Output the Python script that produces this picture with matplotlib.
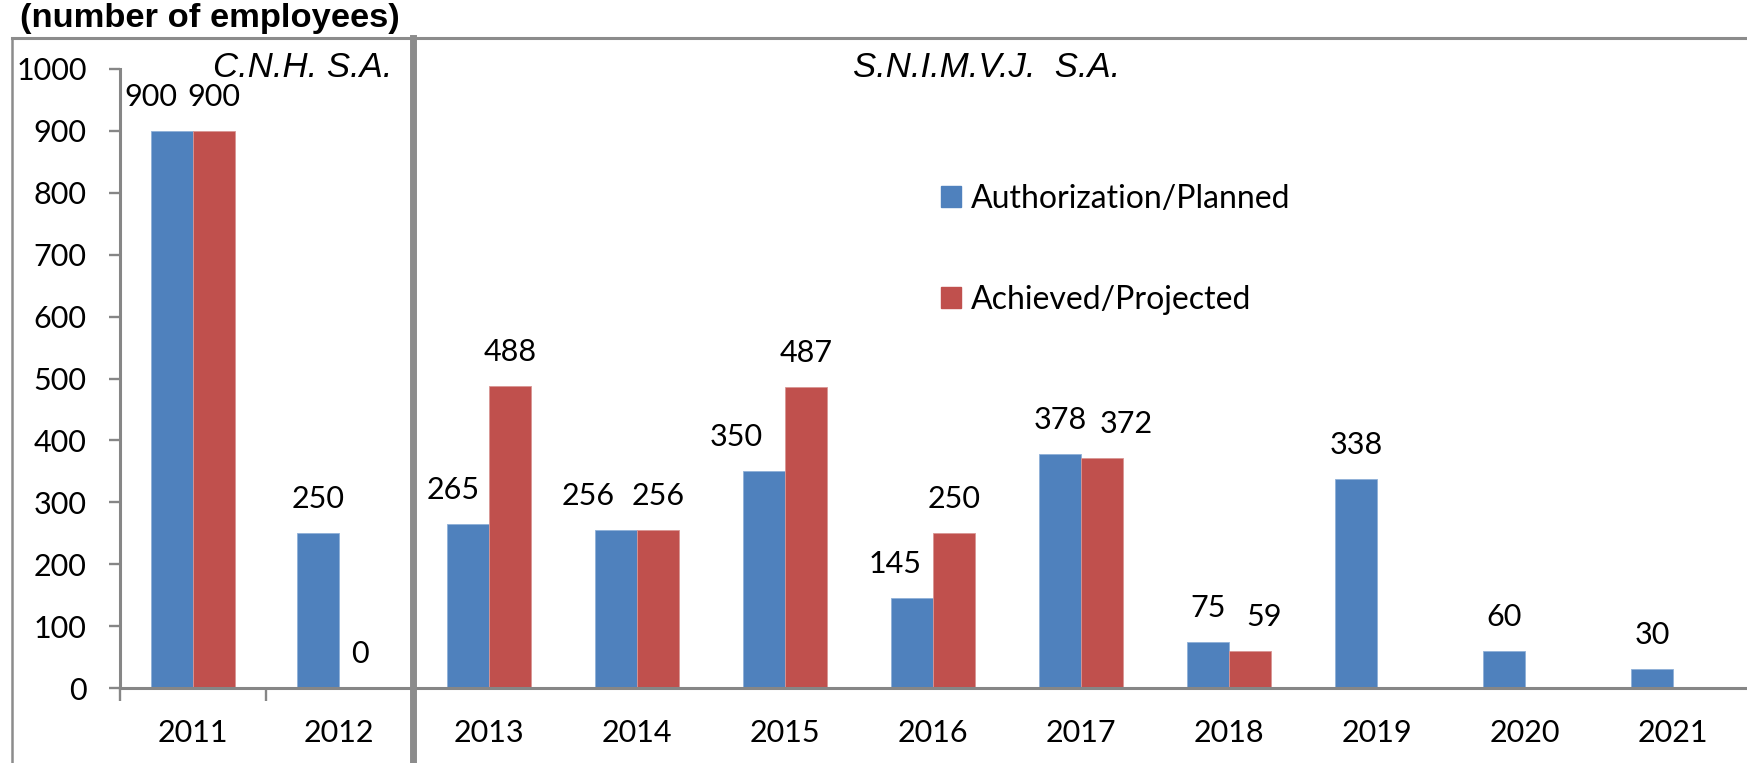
import matplotlib.pyplot as plt
from matplotlib.lines import Line2D

# --- data ---
years_cnh = ["2011", "2012"]
planned_cnh = [900, 250]
achieved_cnh = [900, 0]

years_snim = ["2013", "2014", "2015", "2016", "2017", "2018", "2019", "2020", "2021"]
planned_snim = [265, 256, 350, 145, 378, 75, 338, 60, 30]
achieved_snim = [488, 256, 487, 250, 372, 59, None, None, None]

# manual label nudges (pixels), like the hand-moved labels in the original
nudge_planned = [-21, 0, -15, -28, -28, -17, 0, 0, 0, 0, 0]
nudge_achieved = [0, 0, 0, 0, 0, 0, 24, 14, 0, 0, 0]

BLUE = "#4F81BD"
RED = "#C0504D"
GREY = "#868686"
W, H = 1747, 763
FS = 22

plt.rcParams["font.family"] = ["Lato", "DejaVu Sans"]

fig = plt.figure(figsize=(W / 100, H / 100), dpi=100)


def fx(px):
    return px / W


def fy(py):
    return 1 - py / H


y0, y1 = 688, 69
ax1 = fig.add_axes([fx(120), fy(y0), fx(412) - fx(120), fy(y1) - fy(y0)])
ax2 = fig.add_axes([fx(415), fy(y0), fx(1747) - fx(415), fy(y1) - fy(y0)])

bw = 0.285


def draw(ax, years, planned, achieved, nudge_p, nudge_a):
    for i, (p, a) in enumerate(zip(planned, achieved)):
        ax.bar(i - bw / 2, p, bw, color=BLUE, edgecolor="#8fb0d8", linewidth=0.6)
        ax.annotate(str(p), (i - bw / 2, p), xytext=(nudge_p[i], 34),
                    textcoords="offset pixels", ha="center", va="center", fontsize=FS)
        if a is not None:
            if a > 0:
                ax.bar(i + bw / 2, a, bw, color=RED, edgecolor="#d99694", linewidth=0.6)
            ax.annotate(str(a), (i + bw / 2, a), xytext=(nudge_a[i], 34),
                        textcoords="offset pixels", ha="center", va="center", fontsize=FS)
    ax.set_xlim(-0.5, len(years) - 0.5)
    ax.set_ylim(0, 1000)
    for s in ["top", "right"]:
        ax.spines[s].set_visible(False)
    ax.spines["bottom"].set_color(GREY)
    ax.spines["bottom"].set_linewidth(2.2)


draw(ax1, years_cnh, planned_cnh, achieved_cnh, nudge_planned[:2], nudge_achieved[:2])
draw(ax2, years_snim, planned_snim, achieved_snim, nudge_planned[2:], nudge_achieved[2:])

# category labels as minor ticks, boundary ticks as major ticks
for ax, years in [(ax1, years_cnh), (ax2, years_snim)]:
    ax.set_xticks(range(len(years)), minor=True)
    ax.set_xticklabels(years, minor=True)
    ax.tick_params(axis="x", which="minor", length=0, pad=22, labelsize=FS)

ax1.set_xticks([-0.5, 0.5, 1.5])
ax1.set_xticklabels([])
ax1.tick_params(axis="x", which="major", length=9, width=1.7, color=GREY, direction="out")
ax1.set_yticks(range(0, 1001, 100))
ax1.tick_params(axis="y", length=8, width=1.7, color=GREY, pad=16, labelsize=FS)
ax1.spines["left"].set_color(GREY)
ax1.spines["left"].set_linewidth(2.2)

ax2.set_xticks([])
ax2.set_yticks([])
ax2.spines["left"].set_visible(False)

# legend
handles = [plt.Rectangle((0, 0), 1, 1, color=BLUE), plt.Rectangle((0, 0), 1, 1, color=RED)]
fig.legend(handles, ["Authorization/Planned", "Achieved/Projected"],
           loc="upper left", bbox_to_anchor=(fx(941), fy(184)), frameon=False,
           prop={"size": 23}, handlelength=0.63, handleheight=0.63,
           handletextpad=0.3, labelspacing=2.22, borderpad=0, borderaxespad=0)

# titles
fig.text(fx(20), fy(3), "(number of employees)", fontsize=24.8, fontweight="bold",
         family="Liberation Sans", ha="left", va="top")
fig.text(fx(213), fy(77), "C.N.H. S.A.", fontsize=25, style="italic",
         family="Liberation Sans", ha="left", va="baseline")
fig.text(fx(853), fy(77), "S.N.I.M.V.J.  S.A.", fontsize=25, style="italic",
         family="Liberation Sans", ha="left", va="baseline")

# box lines around the two panels
BOX = "#8C8C8C"
fig.add_artist(Line2D([fx(12), fx(1747)], [fy(38), fy(38)], color=BOX, lw=2.2))
fig.add_artist(Line2D([fx(12), fx(12)], [fy(38), fy(763)], color=BOX, lw=1.8))
fig.add_artist(Line2D([fx(413), fx(413)], [fy(38), fy(763)], color=BOX, lw=5))

fig.savefig("out.png", dpi=100)
